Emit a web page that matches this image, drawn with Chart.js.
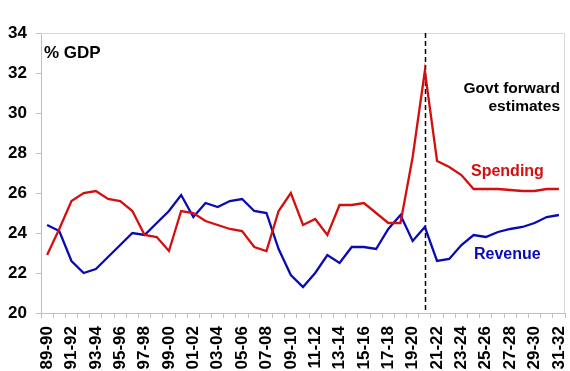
<!DOCTYPE html>
<html>
<head>
<meta charset="utf-8">
<script src="https://cdn.jsdelivr.net/npm/chart.js@4/dist/chart.umd.min.js"></script>
<style>
  html, body { margin: 0; padding: 0; background: #fff; }
  #wrap { width: 570px; height: 371px; }
</style>
</head>
<body>
<div id="wrap"><canvas id="myChart" width="570" height="371"></canvas></div>
<script>
// financial years 1989-90 .. 2031-32
const years = ['89-90','90-91','91-92','92-93','93-94','94-95','95-96','96-97','97-98','98-99',
  '99-00','00-01','01-02','02-03','03-04','04-05','05-06','06-07','07-08','08-09',
  '09-10','10-11','11-12','12-13','13-14','14-15','15-16','16-17','17-18','18-19',
  '19-20','20-21','21-22','22-23','23-24','24-25','25-26','26-27','27-28','28-29',
  '29-30','30-31','31-32'];

const spending = [22.9, 24.2, 25.6, 26.0, 26.1, 25.7, 25.6, 25.1, 23.9, 23.8,
  23.1, 25.1, 25.0, 24.6, 24.4, 24.2, 24.1, 23.3, 23.1, 25.1,
  26.0, 24.4, 24.7, 23.9, 25.4, 25.4, 25.5, 25.0, 24.5, 24.5,
  27.8, 32.1, 27.6, 27.3, 26.9, 26.2, 26.2, 26.2, 26.15, 26.1,
  26.1, 26.2, 26.2];

const revenue = [24.4, 24.1, 22.6, 22.0, 22.2, 22.8, 23.4, 24.0, 23.9, 24.5,
  25.1, 25.9, 24.8, 25.5, 25.3, 25.6, 25.7, 25.1, 25.0, 23.2,
  21.9, 21.3, 22.0, 22.9, 22.5, 23.3, 23.3, 23.2, 24.2, 24.9,
  23.6, 24.3, 22.6, 22.7, 23.4, 23.9, 23.8, 24.05, 24.2, 24.3,
  24.5, 24.8, 24.9];

const yTicks = [20, 22, 24, 26, 28, 30, 32, 34];
const forecastStart = '20-21';

const RED = '#d40f0f';
const BLUE = '#0a0ab4';
const FONT = 'Arial, "Liberation Sans", sans-serif';

// plot box, dashed forecast line and text labels
const extras = {
    id: 'extras',
    beforeDatasetsDraw(chart) {
        const { ctx, chartArea: a, scales: { x } } = chart;
        ctx.save();
        ctx.strokeStyle = '#d9d9d9';
        ctx.lineWidth = 1;
        ctx.beginPath();
        ctx.moveTo(a.left, a.top + 0.5);
        ctx.lineTo(a.right - 0.5, a.top + 0.5);
        ctx.lineTo(a.right - 0.5, a.bottom);
        ctx.stroke();

        const fx = Math.round(x.getPixelForValue(years.indexOf(forecastStart))) + 0.5;
        ctx.strokeStyle = '#000';
        ctx.lineWidth = 1.5;
        ctx.setLineDash([5, 3]);
        ctx.beginPath();
        ctx.moveTo(fx, a.top);
        ctx.lineTo(fx, a.bottom);
        ctx.stroke();
        ctx.restore();
    },
    afterDatasetsDraw(chart) {
        const { ctx, chartArea: a } = chart;
        ctx.save();
        ctx.textBaseline = 'middle';
        ctx.font = 'bold 17px ' + FONT;
        ctx.fillStyle = '#000';
        ctx.textAlign = 'left';
        ctx.fillText('% GDP', a.left + 3, 53);
        ctx.font = 'bold 15.5px ' + FONT;
        ctx.textAlign = 'right';
        ctx.fillText('Govt forward', a.right - 5, 89);
        ctx.fillText('estimates', a.right - 5, 107);
        ctx.font = 'bold 16px ' + FONT;
        ctx.textAlign = 'left';
        ctx.fillStyle = RED;
        ctx.fillText('Spending', 471, 172);
        ctx.fillStyle = BLUE;
        ctx.fillText('Revenue', 474, 255);
        ctx.restore();
    }
};

new Chart(document.getElementById('myChart'), {
    type: 'line',
    data: {
        labels: years,
        datasets: [
            { label: 'Spending', data: spending, borderColor: RED, borderWidth: 2.3,
              pointRadius: 0, tension: 0, fill: false },
            { label: 'Revenue', data: revenue, borderColor: BLUE, borderWidth: 2.3,
              pointRadius: 0, tension: 0, fill: false }
        ]
    },
    options: {
        responsive: false,
        animation: false,
        layout: { padding: { top: 33, right: 5, left: 0, bottom: 0 } },
        plugins: { legend: { display: false }, tooltip: { enabled: false } },
        scales: {
            x: {
                type: 'category',
                offset: true,
                grid: { display: true, drawOnChartArea: false, offset: true,
                        tickLength: 5, color: '#bfbfbf' },
                border: { color: '#bfbfbf' },
                ticks: {
                    autoSkip: false, minRotation: 90, maxRotation: 90, padding: 8,
                    color: '#000', font: { family: FONT, size: 17, weight: 'bold' },
                    callback: (v, i) => (i % 2 === 0 ? years[i] : '')
                },
                afterFit(s) {
                    s.height = 58;
                    s.paddingLeft = 0;
                    s.paddingRight = 0;
                }
            },
            y: {
                min: 20, max: 34,
                afterBuildTicks(s) { s.ticks = yTicks.map(v => ({ value: v })); },
                grid: { display: true, drawOnChartArea: false, tickLength: 5, color: '#bfbfbf' },
                border: { color: '#bfbfbf' },
                ticks: { padding: 9, color: '#000', font: { family: FONT, size: 17, weight: 'bold' } },
                afterFit(s) {
                    s.width = 41;
                    s.paddingTop = 0;
                    s.paddingBottom = 0;
                }
            }
        }
    },
    plugins: [extras]
});
</script>
</body>
</html>
